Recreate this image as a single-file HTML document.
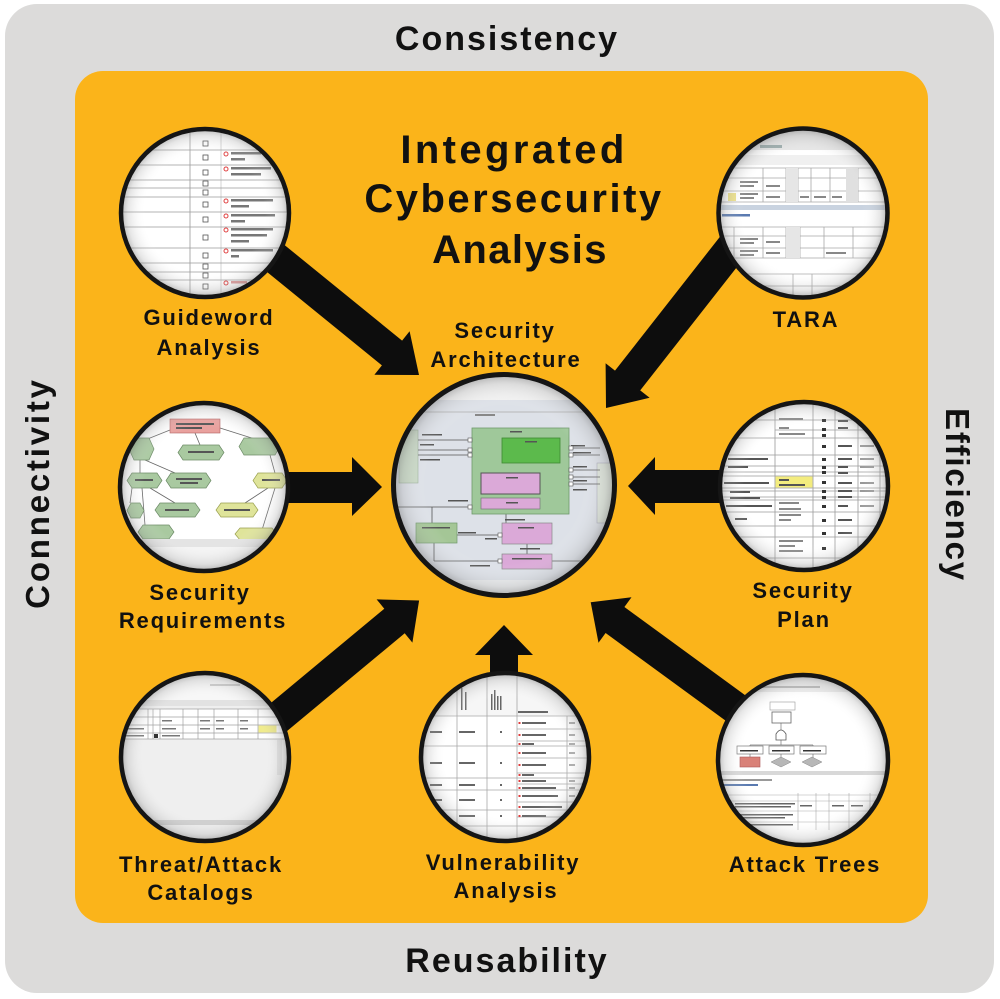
<!DOCTYPE html>
<html><head><meta charset="utf-8"><style>
html,body{margin:0;padding:0;background:#fff;}
svg{display:block;}
.t{font-family:"Liberation Sans",Arial,sans-serif;font-weight:bold;fill:#111;text-anchor:middle;}
.lb{font-size:22px;letter-spacing:1.8px;}
.tt{font-size:40px;}
.side{font-size:33px;}
</style></head><body>
<svg width="1000" height="999" viewBox="0 0 1000 999" xmlns="http://www.w3.org/2000/svg">
<defs>
<radialGradient id="vig" cx="50%" cy="50%" r="50%">
<stop offset="0.72" stop-color="#ffffff" stop-opacity="0"/>
<stop offset="0.93" stop-color="#9a9a9a" stop-opacity="0.25"/>
<stop offset="1" stop-color="#707070" stop-opacity="0.45"/>
</radialGradient>
<clipPath id="c1"><circle cx="205" cy="213" r="83"/></clipPath>
<clipPath id="c2"><circle cx="803" cy="213" r="83"/></clipPath>
<clipPath id="c3"><circle cx="204" cy="487" r="83"/></clipPath>
<clipPath id="c4"><circle cx="804" cy="486" r="83"/></clipPath>
<clipPath id="c5"><circle cx="205" cy="757" r="83"/></clipPath>
<clipPath id="c6"><circle cx="505" cy="757" r="83"/></clipPath>
<clipPath id="c7"><circle cx="803" cy="760" r="84"/></clipPath>
<clipPath id="c0"><circle cx="504" cy="485" r="109"/></clipPath>
</defs>

<!-- backgrounds -->
<rect x="5" y="4" width="989" height="989" rx="32" fill="#dcdbda"/>
<rect x="75" y="71" width="853" height="852" rx="28" fill="#fbb41a"/>

<!-- side labels -->
<text class="t side" x="507" y="50" style="font-size:34px;letter-spacing:2px">Consistency</text>
<text class="t side" x="507" y="972" style="font-size:34px;letter-spacing:2px">Reusability</text>
<text class="t side" transform="translate(49,493) rotate(-90)" style="letter-spacing:2.8px">Connectivity</text>
<text class="t side" transform="translate(946,495) rotate(90)" style="letter-spacing:1.8px">Efficiency</text>

<!-- title -->
<text class="t tt" x="514" y="163" style="letter-spacing:3.4px">Integrated</text>
<text class="t tt" x="514" y="212" style="letter-spacing:2.5px">Cybersecurity</text>
<text class="t tt" x="520" y="263" style="letter-spacing:1.4px">Analysis</text>

<!-- arrows -->
<g fill="#0d0d0d">
<polygon points="247.1,214.6 402.1,340.6 409.6,331.2 419,375 374.4,374.8 381.9,365.4 226.9,239.4"/>
<polygon points="738.4,213.2 615.0,370.6 605.6,363.2 606,408 649.6,397.8 640.2,390.4 763.6,233.0"/>
<polygon points="250,472 352,472 352,457 382,487 352,516 352,503 250,503"/>
<polygon points="760,470 655,470 655,457 628,486 655,515 655,503 760,503"/>
<polygon points="230.3,736.7 384.3,608.7 376.6,599.4 419.1,600.5 412.4,642.6 404.7,633.3 250.7,761.3"/>
<polygon points="490,700 490,655 475,655 504,625 533,655 518,655 518,700"/>
<polygon points="802.4,737.0 624.4,607.0 631.5,597.3 590.7,602.3 598.5,642.7 605.6,633.0 783.6,763.0"/>
</g>

<!-- Guideword circle -->
<g clip-path="url(#c1)">
<rect x="120" y="128" width="170" height="170" fill="#fff"/>
<g stroke="#9a9a9a" stroke-width="0.8">
<line x1="190" y1="128" x2="190" y2="298"/>
<line x1="221" y1="128" x2="221" y2="298" stroke="#c8c8c8"/>
<line x1="120" y1="150" x2="290" y2="150"/><line x1="120" y1="165" x2="290" y2="165"/>
<line x1="120" y1="180" x2="290" y2="180"/><line x1="120" y1="188" x2="290" y2="188"/>
<line x1="120" y1="197" x2="290" y2="197"/><line x1="120" y1="212" x2="290" y2="212"/>
<line x1="120" y1="227" x2="290" y2="227"/><line x1="120" y1="248" x2="290" y2="248"/>
<line x1="120" y1="263" x2="290" y2="263"/><line x1="120" y1="272" x2="290" y2="272"/>
<line x1="120" y1="280" x2="290" y2="280"/>
</g>
<g fill="#fff" stroke="#555" stroke-width="0.8">
<rect x="203" y="141" width="5" height="5"/><rect x="203" y="155" width="5" height="5"/>
<rect x="203" y="170" width="5" height="5"/><rect x="203" y="181" width="5" height="5"/>
<rect x="203" y="190" width="5" height="5"/><rect x="203" y="202" width="5" height="5"/>
<rect x="203" y="217" width="5" height="5"/><rect x="203" y="235" width="5" height="5"/>
<rect x="203" y="253" width="5" height="5"/><rect x="203" y="264" width="5" height="5"/>
<rect x="203" y="273" width="5" height="5"/><rect x="203" y="284" width="5" height="5"/>
</g>
<g fill="none" stroke="#e04040" stroke-width="1">
<circle cx="226" cy="154" r="2"/><circle cx="226" cy="169" r="2"/><circle cx="226" cy="201" r="2"/>
<circle cx="226" cy="216" r="2"/><circle cx="226" cy="230" r="2"/><circle cx="226" cy="251" r="2"/>
<circle cx="226" cy="283" r="2"/>
</g>
<g fill="#777">
<rect x="231" y="152" width="30" height="2.5"/><rect x="231" y="158" width="14" height="2.5"/>
<rect x="231" y="167" width="40" height="2.5"/><rect x="231" y="173" width="30" height="2.5"/>
<rect x="231" y="199" width="42" height="2.5"/><rect x="231" y="205" width="18" height="2.5"/>
<rect x="231" y="214" width="44" height="2.5"/><rect x="231" y="220" width="14" height="2.5"/>
<rect x="231" y="228" width="42" height="2.5"/><rect x="231" y="234" width="36" height="2.5"/><rect x="231" y="240" width="18" height="2.5"/>
<rect x="231" y="249" width="42" height="2.5"/><rect x="231" y="255" width="8" height="2.5"/>
<rect x="231" y="281" width="16" height="2.5" fill="#d99"/>
</g>
</g>
<circle cx="205" cy="213" r="83" fill="url(#vig)"/>
<circle cx="205" cy="213" r="84" fill="none" stroke="#151515" stroke-width="4.5"/>

<!-- TARA circle -->
<g clip-path="url(#c2)">
<rect x="718" y="128" width="172" height="172" fill="#fff"/>
<rect x="718" y="128" width="172" height="22" fill="#e6e6e6"/>
<rect x="718" y="155" width="172" height="10" fill="#f0f0f0"/>
<rect x="760" y="145" width="22" height="3" fill="#9aa"/>
<g stroke="#a8a8a8" stroke-width="0.8" fill="none">
<line x1="718" y1="168" x2="890" y2="168"/><line x1="718" y1="178" x2="890" y2="178"/>
<line x1="718" y1="191" x2="890" y2="191"/><line x1="718" y1="202" x2="890" y2="202"/>
<line x1="763" y1="168" x2="763" y2="202"/><line x1="786" y1="168" x2="786" y2="202"/>
<line x1="798" y1="168" x2="798" y2="202"/><line x1="811" y1="168" x2="811" y2="202"/>
<line x1="830" y1="168" x2="830" y2="202"/><line x1="847" y1="168" x2="847" y2="202"/>
<line x1="858" y1="168" x2="858" y2="202"/>
<line x1="718" y1="227" x2="890" y2="227"/><line x1="718" y1="236" x2="890" y2="236"/>
<line x1="718" y1="248" x2="890" y2="248"/><line x1="718" y1="258" x2="890" y2="258"/>
<line x1="734" y1="227" x2="734" y2="258"/><line x1="763" y1="227" x2="763" y2="258"/>
<line x1="786" y1="227" x2="786" y2="258"/><line x1="800" y1="227" x2="800" y2="258"/>
<line x1="824" y1="227" x2="824" y2="258"/><line x1="853" y1="227" x2="853" y2="258"/>
<line x1="718" y1="274" x2="890" y2="274"/><line x1="718" y1="286" x2="890" y2="286"/>
<line x1="793" y1="274" x2="793" y2="298"/><line x1="812" y1="274" x2="812" y2="298"/>
</g>
<rect x="786" y="168" width="12" height="34" fill="#e6e6e6"/>
<rect x="846" y="168" width="12" height="34" fill="#e0e0e0"/>
<rect x="786" y="227" width="14" height="31" fill="#e6e6e6"/>
<rect x="728" y="193" width="8" height="8" fill="#eee28a"/>
<rect x="718" y="205" width="172" height="5" fill="#c9d3e0"/>
<rect x="722" y="214" width="28" height="2.5" fill="#5a7ab0"/>
<g fill="#888">
<rect x="740" y="181" width="18" height="2"/><rect x="740" y="185" width="14" height="2"/>
<rect x="740" y="193" width="18" height="2"/><rect x="740" y="197" width="14" height="2"/>
<rect x="740" y="238" width="18" height="2"/><rect x="740" y="242" width="14" height="2"/>
<rect x="740" y="250" width="18" height="2"/><rect x="740" y="254" width="14" height="2"/>
<rect x="766" y="185" width="14" height="2"/><rect x="766" y="196" width="14" height="2"/>
<rect x="766" y="241" width="14" height="2"/><rect x="766" y="252" width="14" height="2"/>
<rect x="826" y="252" width="20" height="2"/><rect x="800" y="196" width="9" height="2"/>
<rect x="814" y="196" width="12" height="2"/><rect x="832" y="196" width="10" height="2"/>
</g>
</g>
<circle cx="803" cy="213" r="83" fill="url(#vig)"/>
<circle cx="803" cy="213" r="84.5" fill="none" stroke="#151515" stroke-width="4.5"/>

<!-- Security Requirements circle -->
<g clip-path="url(#c3)">
<rect x="120" y="403" width="170" height="170" fill="#fff"/>
<g stroke="#666" stroke-width="0.8" fill="none">
<line x1="195" y1="433" x2="200" y2="445"/><line x1="170" y1="430" x2="145" y2="440"/>
<line x1="220" y1="428" x2="258" y2="440"/><line x1="145" y1="460" x2="175" y2="473"/>
<line x1="140" y1="460" x2="140" y2="473"/><line x1="132" y1="488" x2="130" y2="503"/>
<line x1="142" y1="488" x2="145" y2="525"/><line x1="150" y1="488" x2="175" y2="503"/>
<line x1="270" y1="455" x2="275" y2="473"/><line x1="268" y1="488" x2="245" y2="503"/>
<line x1="275" y1="488" x2="262" y2="530"/>
</g>
<rect x="170" y="419" width="50" height="14" fill="#e9a19e" stroke="#b06060" stroke-width="0.6"/>
<g fill="#a9c9a0" stroke="#6c8a66" stroke-width="0.7">
<polygon points="183,445 219,445 224,452.5 219,460 183,460 178,452.5"/>
<polygon points="134,438 149,438 154,449 149,460 134,460 129,449"/>
<polygon points="244,438 275,438 280,446.5 275,455 244,455 239,446.5"/>
<polygon points="132,473 157,473 162,480.5 157,488 132,488 127,480.5"/>
<polygon points="171,473 206,473 211,480.5 206,488 171,488 166,480.5"/>
<polygon points="160,503 195,503 200,510 195,517 160,517 155,510"/>
<polygon points="131,503 140,503 144,510.5 140,518 131,518 127,510.5"/>
<polygon points="143,525 169,525 174,532 169,539 143,539 138,532"/>
</g>
<g fill="#dfe49a" stroke="#9aa050" stroke-width="0.7">
<polygon points="258,473 282,473 287,480.5 282,488 258,488 253,480.5"/>
<polygon points="221,503 253,503 258,510 253,517 221,517 216,510"/>
<polygon points="240,528 272,528 277,534 272,540 240,540 235,534"/>
</g>
<g fill="#555">
<rect x="176" y="423" width="38" height="2"/><rect x="176" y="427" width="26" height="2"/>
<rect x="188" y="451" width="26" height="2"/><rect x="176" y="478" width="26" height="2"/><rect x="180" y="482" width="18" height="2"/>
<rect x="165" y="509" width="24" height="2"/><rect x="224" y="509" width="26" height="2"/>
<rect x="262" y="479" width="18" height="2"/><rect x="135" y="479" width="18" height="2"/>
</g>
<rect x="120" y="539" width="170" height="8" fill="#e4e4e4"/>
<rect x="120" y="547" width="170" height="30" fill="#f4f4f4"/>
</g>
<circle cx="204" cy="487" r="83" fill="url(#vig)"/>
<circle cx="204" cy="487" r="84" fill="none" stroke="#151515" stroke-width="4.5"/>

<!-- Security Plan circle -->
<g clip-path="url(#c4)">
<rect x="720" y="402" width="170" height="170" fill="#fff"/>
<g stroke="#9a9a9a" stroke-width="0.8">
<line x1="775" y1="402" x2="775" y2="572"/><line x1="813" y1="402" x2="813" y2="572"/>
<line x1="835" y1="402" x2="835" y2="572"/><line x1="858" y1="402" x2="858" y2="572"/>
<line x1="880" y1="402" x2="880" y2="572"/>
<line x1="720" y1="420" x2="890" y2="420"/><line x1="775" y1="430" x2="890" y2="430"/>
<line x1="720" y1="438" x2="890" y2="438"/><line x1="720" y1="455" x2="890" y2="455"/>
<line x1="720" y1="466" x2="890" y2="466"/><line x1="720" y1="472" x2="890" y2="472"/>
<line x1="720" y1="476" x2="890" y2="476"/><line x1="720" y1="488" x2="890" y2="488"/>
<line x1="720" y1="491" x2="890" y2="491"/><line x1="720" y1="497" x2="890" y2="497"/>
<line x1="720" y1="500" x2="890" y2="500"/><line x1="720" y1="512" x2="890" y2="512"/>
<line x1="720" y1="526" x2="890" y2="526"/><line x1="720" y1="537" x2="890" y2="537"/>
<line x1="720" y1="558" x2="890" y2="558"/>
</g>
<rect x="775.5" y="476.5" width="37" height="11" fill="#f3ec7e"/>
<g fill="#333">
<rect x="822" y="419" width="4" height="3"/><rect x="822" y="428" width="4" height="3"/>
<rect x="822" y="434" width="4" height="3"/><rect x="822" y="445" width="4" height="3"/>
<rect x="822" y="458" width="4" height="3"/><rect x="822" y="466" width="4" height="3"/>
<rect x="822" y="471" width="4" height="3"/><rect x="822" y="481" width="4" height="3"/>
<rect x="822" y="490" width="4" height="3"/><rect x="822" y="496" width="4" height="3"/>
<rect x="822" y="505" width="4" height="3"/><rect x="822" y="519" width="4" height="3"/>
<rect x="822" y="532" width="4" height="3"/><rect x="822" y="547" width="4" height="3"/>
</g>
<g fill="#555">
<rect x="838" y="420" width="10" height="2"/><rect x="838" y="427" width="10" height="2"/>
<rect x="838" y="445" width="14" height="2"/><rect x="838" y="458" width="14" height="2"/>
<rect x="838" y="466" width="10" height="2"/><rect x="838" y="472" width="10" height="2"/>
<rect x="838" y="482" width="14" height="2"/><rect x="838" y="490" width="14" height="2"/>
<rect x="838" y="496" width="14" height="2"/><rect x="838" y="505" width="10" height="2"/>
<rect x="838" y="519" width="14" height="2"/><rect x="838" y="532" width="14" height="2"/>
<rect x="860" y="445" width="14" height="2" fill="#999"/><rect x="860" y="458" width="14" height="2" fill="#999"/>
<rect x="860" y="466" width="14" height="2" fill="#999"/><rect x="860" y="482" width="14" height="2" fill="#999"/>
<rect x="860" y="490" width="14" height="2" fill="#999"/><rect x="860" y="505" width="14" height="2" fill="#999"/>
<rect x="728" y="458" width="40" height="2"/><rect x="728" y="466" width="20" height="2"/>
<rect x="724" y="482" width="45" height="2"/><rect x="730" y="491" width="20" height="2"/>
<rect x="730" y="497" width="30" height="2"/><rect x="726" y="505" width="46" height="2"/>
<rect x="735" y="518" width="12" height="2"/>
<rect x="779" y="418" width="24" height="2" fill="#888"/><rect x="779" y="427" width="10" height="2" fill="#888"/>
<rect x="779" y="433" width="26" height="2" fill="#888"/><rect x="779" y="479" width="10" height="2"/>
<rect x="779" y="484" width="26" height="2"/><rect x="779" y="502" width="20" height="2" fill="#888"/>
<rect x="779" y="508" width="22" height="2" fill="#888"/><rect x="779" y="514" width="22" height="2" fill="#888"/>
<rect x="779" y="519" width="12" height="2" fill="#888"/><rect x="779" y="540" width="24" height="2" fill="#888"/>
<rect x="779" y="545" width="16" height="2" fill="#888"/><rect x="779" y="550" width="24" height="2" fill="#888"/>
</g>
</g>
<circle cx="804" cy="486" r="83" fill="url(#vig)"/>
<circle cx="804" cy="486" r="84" fill="none" stroke="#151515" stroke-width="4.5"/>

<!-- Threat/Attack circle -->
<g clip-path="url(#c5)">
<rect x="120" y="672" width="170" height="170" fill="#efefef"/>
<rect x="120" y="672" width="170" height="28" fill="#f7f7f7"/>
<rect x="120" y="700" width="170" height="6" fill="#e2e2e2"/>
<rect x="210" y="684" width="30" height="2" fill="#ccc"/>
<rect x="120" y="709" width="170" height="30" fill="#fff"/>
<g stroke="#a0a0a0" stroke-width="0.7">
<line x1="120" y1="709" x2="290" y2="709"/><line x1="120" y1="717" x2="290" y2="717"/>
<line x1="120" y1="725" x2="290" y2="725"/><line x1="120" y1="733" x2="290" y2="733"/>
<line x1="120" y1="739" x2="290" y2="739"/>
<line x1="148" y1="709" x2="148" y2="739"/><line x1="153" y1="709" x2="153" y2="739"/>
<line x1="160" y1="709" x2="160" y2="739"/><line x1="183" y1="709" x2="183" y2="739"/>
<line x1="198" y1="709" x2="198" y2="739"/><line x1="214" y1="709" x2="214" y2="739"/>
<line x1="238" y1="709" x2="238" y2="739"/><line x1="258" y1="709" x2="258" y2="739"/>
</g>
<rect x="258.5" y="725.5" width="18" height="7" fill="#f1ec88"/>
<g fill="#777">
<rect x="162" y="720" width="10" height="1.5"/><rect x="162" y="728" width="14" height="1.5"/>
<rect x="162" y="735" width="18" height="1.5"/><rect x="200" y="720" width="10" height="1.5"/>
<rect x="200" y="728" width="10" height="1.5"/><rect x="216" y="720" width="8" height="1.5"/>
<rect x="216" y="728" width="8" height="1.5"/><rect x="240" y="720" width="8" height="1.5"/>
<rect x="240" y="728" width="8" height="1.5"/><rect x="124" y="728" width="20" height="1.5"/>
<rect x="124" y="735" width="20" height="1.5"/><rect x="154" y="734" width="4" height="4" fill="#333"/>
</g>
<rect x="277" y="740" width="5" height="35" fill="#e0e0e0"/>
<rect x="120" y="820" width="170" height="5" fill="#cfcfcf"/>
</g>
<circle cx="205" cy="757" r="83" fill="url(#vig)"/>
<circle cx="205" cy="757" r="84" fill="none" stroke="#151515" stroke-width="4.5"/>

<!-- Vulnerability circle -->
<g clip-path="url(#c6)">
<rect x="420" y="672" width="170" height="170" fill="#fff"/>
<rect x="420" y="672" width="170" height="44" fill="#f6f6f6"/>
<g stroke="#a8a8a8" stroke-width="0.8">
<line x1="457" y1="672" x2="457" y2="842"/><line x1="487" y1="672" x2="487" y2="842"/>
<line x1="517" y1="672" x2="517" y2="842"/><line x1="567" y1="716" x2="567" y2="842"/>
<line x1="420" y1="716" x2="590" y2="716"/><line x1="420" y1="746" x2="590" y2="746"/>
<line x1="420" y1="778" x2="590" y2="778"/><line x1="420" y1="790" x2="590" y2="790"/>
<line x1="420" y1="810" x2="590" y2="810"/><line x1="420" y1="826" x2="590" y2="826"/>
<line x1="517" y1="729" x2="590" y2="729"/><line x1="517" y1="741" x2="590" y2="741"/>
<line x1="517" y1="758" x2="590" y2="758"/><line x1="517" y1="773" x2="590" y2="773"/>
<line x1="517" y1="784" x2="590" y2="784"/><line x1="517" y1="802" x2="590" y2="802"/>
<line x1="517" y1="817" x2="590" y2="817"/>
</g>
<g fill="#666">
<rect x="461" y="688" width="1.5" height="22"/><rect x="465" y="692" width="1.5" height="18"/>
<rect x="491" y="694" width="1.5" height="16"/><rect x="494" y="690" width="1.5" height="20"/>
<rect x="497" y="696" width="1.5" height="14"/><rect x="500" y="696" width="1.5" height="14"/>
<rect x="518" y="711" width="30" height="2"/>
<rect x="430" y="731" width="12" height="2"/><rect x="459" y="731" width="16" height="2"/>
<rect x="430" y="762" width="12" height="2"/><rect x="459" y="762" width="16" height="2"/>
<rect x="430" y="784" width="12" height="2"/><rect x="459" y="784" width="16" height="2"/>
<rect x="430" y="799" width="12" height="2"/><rect x="459" y="799" width="16" height="2"/>
<rect x="459" y="815" width="16" height="2"/>
<rect x="500" y="731" width="2" height="2"/><rect x="500" y="762" width="2" height="2"/>
<rect x="500" y="784" width="2" height="2"/><rect x="500" y="799" width="2" height="2"/>
<rect x="500" y="815" width="2" height="2"/>
<rect x="522" y="722" width="24" height="2"/><rect x="522" y="734" width="24" height="2"/>
<rect x="522" y="743" width="12" height="2"/><rect x="522" y="752" width="24" height="2"/>
<rect x="522" y="764" width="24" height="2"/><rect x="522" y="774" width="12" height="2"/>
<rect x="522" y="780" width="24" height="2"/><rect x="522" y="787" width="34" height="2"/>
<rect x="522" y="795" width="36" height="2"/><rect x="522" y="806" width="40" height="2"/>
<rect x="522" y="815" width="24" height="2"/>
<rect x="569" y="722" width="6" height="2" fill="#aaa"/><rect x="569" y="734" width="6" height="2" fill="#aaa"/>
<rect x="569" y="743" width="6" height="2" fill="#aaa"/><rect x="569" y="752" width="6" height="2" fill="#aaa"/>
<rect x="569" y="764" width="6" height="2" fill="#aaa"/><rect x="569" y="780" width="6" height="2" fill="#aaa"/>
<rect x="569" y="787" width="6" height="2" fill="#aaa"/><rect x="569" y="795" width="6" height="2" fill="#aaa"/>
</g>
<g fill="#e03a3a">
<rect x="518.5" y="722" width="2" height="2"/><rect x="518.5" y="734" width="2" height="2"/>
<rect x="518.5" y="743" width="2" height="2"/><rect x="518.5" y="752" width="2" height="2"/>
<rect x="518.5" y="764" width="2" height="2"/><rect x="518.5" y="774" width="2" height="2"/>
<rect x="518.5" y="780" width="2" height="2"/><rect x="518.5" y="787" width="2" height="2"/>
<rect x="518.5" y="795" width="2" height="2"/><rect x="518.5" y="806" width="2" height="2"/>
<rect x="518.5" y="815" width="2" height="2"/>
</g>
</g>
<circle cx="505" cy="757" r="83" fill="url(#vig)"/>
<circle cx="505" cy="757" r="84" fill="none" stroke="#151515" stroke-width="4.5"/>

<!-- Attack Trees circle -->
<g clip-path="url(#c7)">
<rect x="718" y="675" width="172" height="172" fill="#fff"/>
<rect x="718" y="675" width="172" height="17" fill="#ececec"/>
<rect x="740" y="686" width="80" height="2" fill="#b8b8b8"/>
<g stroke="#777" stroke-width="0.7" fill="none">
<line x1="781" y1="723" x2="781" y2="732"/><line x1="781" y1="740" x2="781" y2="745"/>
<line x1="750" y1="745" x2="813" y2="745"/><line x1="750" y1="745" x2="750" y2="747"/>
<line x1="813" y1="745" x2="813" y2="747"/><line x1="750" y1="753" x2="750" y2="757"/>
<line x1="781" y1="753" x2="781" y2="758"/><line x1="813" y1="753" x2="813" y2="758"/>
</g>
<rect x="770" y="702" width="25" height="8" fill="#fff" stroke="#999" stroke-width="0.6"/>
<rect x="772" y="712" width="19" height="11" fill="#fff" stroke="#666" stroke-width="0.8"/>
<path d="M776,740 L776,734 Q781,726 786,734 L786,740 Z" fill="#fff" stroke="#555" stroke-width="0.8"/>
<g fill="#fff" stroke="#777" stroke-width="0.7">
<rect x="737" y="746" width="26" height="8"/><rect x="769" y="746" width="25" height="8"/>
<rect x="800" y="746" width="26" height="8"/>
</g>
<g fill="#333"><rect x="740" y="750" width="18" height="1.5"/><rect x="772" y="750" width="18" height="1.5"/><rect x="803" y="750" width="18" height="1.5"/></g>
<rect x="740" y="757" width="20" height="10" fill="#d98178" stroke="#a55" stroke-width="0.6"/>
<polygon points="781,757 791,762 781,767 771,762" fill="#b7b7b7" stroke="#888" stroke-width="0.5"/>
<polygon points="812,757 822,762 812,767 802,762" fill="#b7b7b7" stroke="#888" stroke-width="0.5"/>
<rect x="718" y="771" width="172" height="4" fill="#d8d8d8"/>
<rect x="722" y="779" width="50" height="2" fill="#999"/>
<rect x="722" y="784" width="36" height="2" fill="#5a7ab0"/>
<g stroke="#aaa" stroke-width="0.6">
<line x1="718" y1="795" x2="890" y2="795"/><line x1="718" y1="801" x2="890" y2="801"/>
<line x1="718" y1="811" x2="890" y2="811"/><line x1="718" y1="822" x2="890" y2="822"/>
<line x1="798" y1="793" x2="798" y2="830"/><line x1="816" y1="793" x2="816" y2="830"/>
<line x1="829" y1="793" x2="829" y2="830"/><line x1="849" y1="793" x2="849" y2="830"/>
<line x1="870" y1="793" x2="870" y2="830"/>
</g>
<g fill="#666">
<rect x="735" y="803" width="60" height="1.5"/><rect x="735" y="806" width="56" height="1.5"/>
<rect x="735" y="814" width="58" height="1.5"/><rect x="735" y="817" width="50" height="1.5"/>
<rect x="735" y="824" width="58" height="1.5"/><rect x="800" y="805" width="12" height="1.5"/>
<rect x="832" y="805" width="12" height="1.5"/><rect x="851" y="805" width="12" height="1.5"/>
</g>
</g>
<circle cx="803" cy="760" r="84" fill="url(#vig)"/>
<circle cx="803" cy="760" r="85" fill="none" stroke="#151515" stroke-width="4.5"/>

<!-- Central circle -->
<g clip-path="url(#c0)">
<rect x="390" y="372" width="230" height="230" fill="#dde1e8"/>
<rect x="390" y="372" width="230" height="28" fill="#f2f2f2"/>
<line x1="390" y1="412" x2="620" y2="412" stroke="#aaa" stroke-width="0.8"/>
<rect x="475" y="414" width="20" height="2" fill="#888"/>
<rect x="399" y="430" width="19" height="53" fill="#c9d9c6" stroke="#9bb09a" stroke-width="0.6"/>
<rect x="597" y="463" width="20" height="60" fill="#dfe6dc" stroke="#aab" stroke-width="0.6"/>
<g stroke="#555" stroke-width="0.8" fill="none">
<line x1="418" y1="440" x2="472" y2="440"/><line x1="418" y1="450" x2="472" y2="450"/>
<line x1="418" y1="455" x2="472" y2="455"/>
<line x1="490" y1="440" x2="502" y2="440"/>
<line x1="560" y1="448" x2="600" y2="448"/><line x1="560" y1="455" x2="600" y2="455"/>
<line x1="551" y1="463" x2="551" y2="470"/><line x1="551" y1="470" x2="600" y2="470"/>
<line x1="545" y1="463" x2="545" y2="477"/><line x1="545" y1="477" x2="600" y2="477"/>
<line x1="540" y1="484" x2="600" y2="484"/>
<line x1="391" y1="507" x2="472" y2="507"/>
<line x1="432" y1="507" x2="432" y2="523"/>
<line x1="506" y1="514" x2="506" y2="523"/>
<line x1="457" y1="535" x2="502" y2="535"/>
<line x1="527" y1="544" x2="527" y2="554"/>
<line x1="434" y1="543" x2="434" y2="561"/><line x1="434" y1="561" x2="502" y2="561"/>
<line x1="552" y1="561" x2="600" y2="561"/>
</g>
<rect x="472" y="428" width="97" height="86" fill="#9fc89a" stroke="#6f9a6b" stroke-width="0.8"/>
<rect x="502" y="438" width="58" height="25" fill="#5cba4c" stroke="#3f8a33" stroke-width="0.8"/>
<rect x="481" y="473" width="59" height="21" fill="#dba9d8" stroke="#555" stroke-width="1"/>
<rect x="481" y="498" width="59" height="11" fill="#dba9d8" stroke="#777" stroke-width="0.7"/>
<rect x="416" y="523" width="41" height="20" fill="#a4c696" stroke="#6f9a6b" stroke-width="0.7"/>
<rect x="502" y="523" width="50" height="21" fill="#dba9d8" stroke="#888" stroke-width="0.7"/>
<rect x="502" y="554" width="50" height="15" fill="#dba9d8" stroke="#888" stroke-width="0.7"/>
<g fill="#555">
<rect x="510" y="431" width="12" height="1.5"/><rect x="525" y="441" width="12" height="1.5"/>
<rect x="506" y="477" width="12" height="1.5"/><rect x="506" y="502" width="12" height="1.5"/>
<rect x="422" y="527" width="28" height="1.5"/><rect x="518" y="527" width="16" height="1.5"/>
<rect x="512" y="558" width="30" height="1.5"/>
<rect x="422" y="434" width="20" height="1.5"/><rect x="420" y="444" width="14" height="1.5"/>
<rect x="420" y="459" width="20" height="1.5"/><rect x="448" y="500" width="20" height="1.5"/>
<rect x="571" y="445" width="14" height="1.5"/><rect x="573" y="452" width="18" height="1.5"/>
<rect x="573" y="466" width="14" height="1.5"/><rect x="573" y="480" width="14" height="1.5"/>
<rect x="573" y="489" width="14" height="1.5"/><rect x="458" y="532" width="18" height="1.5"/>
<rect x="505" y="519" width="20" height="1.5"/><rect x="485" y="538" width="12" height="1.5"/>
<rect x="520" y="548" width="20" height="1.5"/><rect x="470" y="565" width="20" height="1.5"/>
</g>
<g fill="#fff" stroke="#555" stroke-width="0.6">
<rect x="468" y="438" width="4" height="4"/><rect x="468" y="448" width="4" height="4"/>
<rect x="468" y="453" width="4" height="4"/><rect x="569" y="446" width="4" height="4"/>
<rect x="569" y="453" width="4" height="4"/><rect x="569" y="468" width="4" height="4"/>
<rect x="569" y="475" width="4" height="4"/><rect x="569" y="482" width="4" height="4"/>
<rect x="468" y="505" width="4" height="4"/><rect x="498" y="533" width="4" height="4"/>
<rect x="498" y="559" width="4" height="4"/>
</g>
<rect x="390" y="580" width="230" height="25" fill="#eceef0"/>
</g>
<circle cx="504" cy="485" r="109" fill="url(#vig)"/>
<circle cx="504" cy="485" r="110.5" fill="none" stroke="#151515" stroke-width="5"/>

<!-- labels -->
<text class="t lb" x="209" y="325">Guideword</text>
<text class="t lb" x="209" y="355">Analysis</text>
<text class="t lb" x="505" y="338">Security</text>
<text class="t lb" x="506" y="367">Architecture</text>
<text class="t lb" x="806" y="327">TARA</text>
<text class="t lb" x="200" y="600">Security</text>
<text class="t lb" x="203" y="628">Requirements</text>
<text class="t lb" x="803" y="598">Security</text>
<text class="t lb" x="804" y="627">Plan</text>
<text class="t lb" x="201" y="872">Threat/Attack</text>
<text class="t lb" x="201" y="900">Catalogs</text>
<text class="t lb" x="503" y="870">Vulnerability</text>
<text class="t lb" x="506" y="898">Analysis</text>
<text class="t lb" x="805" y="872">Attack Trees</text>
</svg>
</body></html>
